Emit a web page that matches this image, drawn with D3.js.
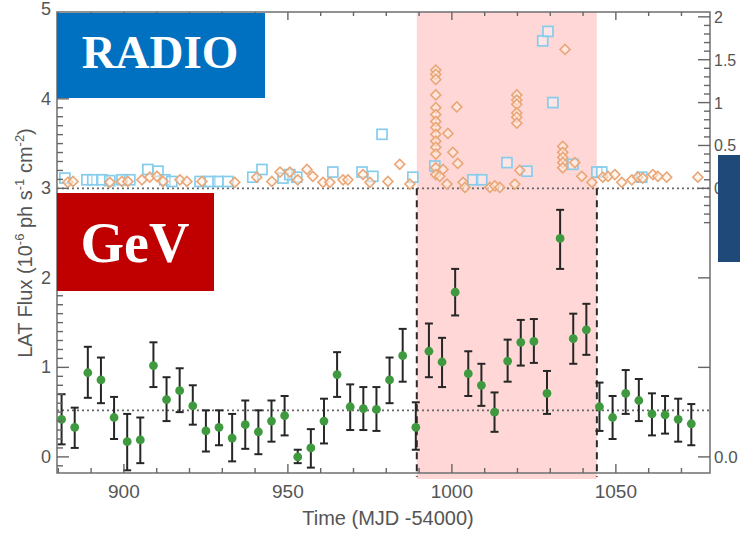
<!DOCTYPE html>
<html>
<head>
<meta charset="utf-8">
<script src="https://cdn.jsdelivr.net/npm/d3@7"></script>
<style>
  html, body { margin: 0; padding: 0; background: #fff; }
  svg { display: block; }
  text { font-family: "Liberation Sans", Arial, sans-serif; fill: #555; }
</style>
</head>
<body>
<svg id="chart" width="740" height="534"></svg>
<script>
// ---- GeV light curve (LAT, 4-day bins) ----
const gevTime = [881, 885, 889, 893, 897, 901, 905, 909, 913, 917, 921, 925, 929, 933, 937, 941, 945, 949, 953, 957,
                 961, 965, 969, 973, 977, 981, 985, 989, 993, 997, 1001, 1005, 1009, 1013, 1017, 1021, 1025, 1029, 1033,
                 1037, 1041, 1045, 1049, 1053, 1057, 1061, 1065, 1069, 1073];
const gevFlux = [0.42, 0.33, 0.94, 0.86, 0.44, 0.17, 0.19, 1.02, 0.64, 0.74, 0.57, 0.29, 0.33, 0.21, 0.36, 0.28, 0.40, 0.46, 0.00, 0.10,
                 0.40, 0.92, 0.56, 0.54, 0.53, 0.86, 1.13, 0.33, 1.18, 1.06, 1.84, 0.93, 0.80, 0.50, 1.07, 1.28, 1.29, 0.71, 2.44,
                 1.32, 1.42, 0.56, 0.44, 0.71, 0.63, 0.48, 0.47, 0.42, 0.37];
const gevHigh = [0.70, 0.55, 1.23, 1.11, 0.67, 0.48, 0.44, 1.28, 0.89, 0.99, 0.80, 0.52, 0.52, 0.48, 0.63, 0.52, 0.63, 0.68, 0.08, 0.31,
                 0.65, 1.17, 0.81, 0.78, 0.78, 1.11, 1.43, 0.61, 1.49, 1.33, 2.10, 1.18, 1.04, 0.72, 1.31, 1.53, 1.54, 0.96, 2.76,
                 1.60, 1.71, 0.83, 0.68, 0.97, 0.87, 0.71, 0.68, 0.65, 0.59];
const gevLow  = [0.14, 0.10, 0.66, 0.60, 0.20, -0.15, -0.07, 0.78, 0.40, 0.50, 0.36, 0.06, 0.13, -0.05, 0.09, 0.03, 0.17, 0.24, -0.07, -0.12,
                 0.15, 0.67, 0.30, 0.30, 0.29, 0.60, 0.84, 0.08, 0.89, 0.78, 1.58, 0.68, 0.57, 0.28, 0.84, 1.02, 1.05, 0.48, 2.10,
                 1.04, 1.14, 0.29, 0.20, 0.48, 0.40, 0.24, 0.26, 0.17, 0.13];
const gevMean = 0.52;

// ---- Radio light curves (right axis) ----
const radioSqTime = [882.0, 888.7, 890.5, 893.3, 895.7, 899.4, 901.8, 907.3, 910.4, 912.5, 914.6, 923.2, 926.2, 928.7, 931.7,
                     939.3, 942.1, 948.5, 950.6, 952.7, 963.7, 972.6, 975.9, 978.7, 988.1, 994.8, 1006.4, 1009.1, 1016.8,
                     1022.9, 1027.7, 1029.3, 1030.8, 1036.9, 1044.2, 1045.7, 1057.9];
const radioSqFlux = [0.12, 0.10, 0.10, 0.10, 0.09, 0.10, 0.10, 0.22, 0.20, 0.10, 0.08, 0.08, 0.08, 0.08, 0.08,
                     0.13, 0.22, 0.12, 0.16, 0.13, 0.19, 0.19, 0.14, 0.63, 0.13, 0.26, 0.10, 0.10, 0.30,
                     0.20, 1.72, 1.83, 1.00, 0.28, 0.19, 0.19, 0.13];
const radioDiaTime = [882.9, 884.5, 895.7, 899.4, 901.2, 905.5, 907.9, 910.1, 911.9, 917.1, 919.2, 923.8, 933.8, 940.5, 945.1,
                      947.6, 950.6, 953.0, 955.8, 957.6, 960.7, 962.8, 966.8, 968.3, 972.9, 975.0, 980.5, 984.1, 987.2,
                      995.1, 995.1, 995.1, 995.1, 995.1, 995.1, 995.1, 995.1, 995.1, 995.1, 995.1, 995.1, 995.1, 995.1,
                      996.3, 997.3, 998.5, 998.8, 1000.3, 1001.5, 1001.8, 1003.4, 1004.0, 1011.6, 1013.1, 1014.6, 1019.2,
                      1019.8, 1019.8, 1019.8, 1019.8, 1019.8, 1019.8, 1020.7,
                      1034.5, 1033.8, 1033.8, 1033.8, 1033.8, 1033.8, 1037.5, 1039.6, 1042.7, 1046.0, 1047.6, 1049.7,
                      1051.8, 1054.9, 1056.7, 1058.2, 1061.3, 1062.8, 1065.5, 1075.0];
const radioDiaFlux = [0.07, 0.08, 0.07, 0.08, 0.08, 0.10, 0.13, 0.14, 0.08, 0.10, 0.08, 0.08, 0.07, 0.13, 0.08,
                      0.19, 0.19, 0.10, 0.22, 0.14, 0.07, 0.07, 0.10, 0.10, 0.16, 0.07, 0.08, 0.28, 0.05,
                      1.38, 1.33, 1.27, 1.09, 0.94, 0.86, 0.78, 0.71, 0.63, 0.55, 0.48, 0.40, 0.24, 0.16,
                      0.14, 0.22, 0.05, 0.64, 0.42, 0.95, 0.29, 0.07, 0.01, 0.01, 0.03, 0.01, 0.05,
                      1.09, 1.03, 0.98, 0.88, 0.83, 0.76, 0.21,
                      1.62, 0.49, 0.42, 0.36, 0.30, 0.24, 0.30, 0.14, 0.07, 0.13, 0.14, 0.16,
                      0.07, 0.10, 0.13, 0.12, 0.16, 0.14, 0.13, 0.13];

// ---- Flare window and axes ----
const flareStart = 989.3, flareEnd = 1044.2;
const xTicks = [900, 950, 1000, 1050];
const yTicks = [0, 1, 2, 3, 4, 5];
const yRightTicks = [0, 0.5, 1, 1.5, 2];
const yRightTickLabels = ["0", "0.5", "1", "1.5", "2"];
const radioBaseline = 3;

const svg = d3.select("#chart");
const L = 57, R = 710, T = 12, B = 473;

const x = d3.scaleLinear().domain([879.6, 1078.7]).range([L, R]);
const y = d3.scaleLinear().domain([-0.18, 4.97]).range([B, T]);
const yR = d3.scaleLinear().domain([0, 2]).range([y(radioBaseline), y(radioBaseline) - 171.5]);

const gev = gevTime.map((t, i) => ({ t, f: gevFlux[i], hi: gevHigh[i], lo: gevLow[i] }));
const sq = radioSqTime.map((t, i) => ({ t, f: radioSqFlux[i] }));
const dia = radioDiaTime.map((t, i) => ({ t, f: radioDiaFlux[i] }));

// flare shading
svg.append("rect")
  .attr("x", x(flareStart)).attr("y", T)
  .attr("width", x(flareEnd) - x(flareStart)).attr("height", B + 6 - T)
  .attr("fill", "#ffd7d7");

// dotted reference lines: radio zero level and GeV mean
svg.append("line")
  .attr("x1", L).attr("x2", R).attr("y1", y(radioBaseline)).attr("y2", y(radioBaseline))
  .attr("stroke", "#666").attr("stroke-width", 1.6).attr("stroke-dasharray", "2,3");
svg.append("line")
  .attr("x1", L).attr("x2", R).attr("y1", y(gevMean)).attr("y2", y(gevMean))
  .attr("stroke", "#666").attr("stroke-width", 1.6).attr("stroke-dasharray", "2,3");

// dashed flare boundaries
[flareStart, flareEnd].forEach(t => {
  svg.append("line")
    .attr("x1", x(t)).attr("x2", x(t)).attr("y1", y(radioBaseline)).attr("y2", B + 4)
    .attr("stroke", "#2a2a2a").attr("stroke-width", 2).attr("stroke-dasharray", "7,5");
});

// radio points
svg.append("g").selectAll("rect").data(sq).join("rect")
  .attr("x", d => x(d.t) - 5).attr("y", d => yR(d.f) - 5)
  .attr("width", 10).attr("height", 10)
  .attr("fill", "rgba(255,255,255,0.35)")
  .attr("stroke", "#86cdec").attr("stroke-width", 1.7);

svg.append("g").selectAll("path").data(dia).join("path")
  .attr("d", d3.symbol(d3.symbolSquare, 50)())
  .attr("transform", d => `translate(${x(d.t)},${yR(d.f)}) rotate(45)`)
  .attr("fill", "rgba(255,240,228,0.55)")
  .attr("stroke", "#e9a677").attr("stroke-width", 1.6);

// GeV error bars and points
const eb = svg.append("g").attr("stroke", "#262626").attr("stroke-width", 2);
gev.forEach(d => {
  const cx = x(d.t);
  eb.append("line").attr("x1", cx).attr("x2", cx).attr("y1", y(d.hi)).attr("y2", y(d.lo));
  eb.append("line").attr("x1", cx - 4).attr("x2", cx + 4).attr("y1", y(d.hi)).attr("y2", y(d.hi));
  eb.append("line").attr("x1", cx - 4).attr("x2", cx + 4).attr("y1", y(d.lo)).attr("y2", y(d.lo));
});
svg.append("g").selectAll("circle").data(gev).join("circle")
  .attr("cx", d => x(d.t)).attr("cy", d => y(d.f)).attr("r", 4.4)
  .attr("fill", "#3f9a3f");

// frame
svg.append("rect").attr("x", L).attr("y", T).attr("width", R - L).attr("height", B - T)
  .attr("fill", "none").attr("stroke", "#777").attr("stroke-width", 1.6);

const tk = svg.append("g").attr("stroke", "#666").attr("stroke-width", 1.4);

// bottom / top ticks
d3.range(880, 1080, 10).forEach(v => {
  const major = v % 50 === 0;
  const xx = x(v);
  tk.append("line").attr("x1", xx).attr("x2", xx).attr("y1", B).attr("y2", B - (major ? 9 : 5));
  tk.append("line").attr("x1", xx).attr("x2", xx).attr("y1", T).attr("y2", T + (major ? 8 : 4));
});
svg.append("g").selectAll("text").data(xTicks).join("text")
  .attr("x", d => x(d)).attr("y", 498).attr("text-anchor", "middle")
  .attr("font-size", 19).text(d => d);

// left ticks
d3.range(-1, 50).forEach(i => {
  const v = i / 10;
  const major = i % 10 === 0;
  tk.append("line").attr("x1", L).attr("x2", L + (major ? 12 : 6)).attr("y1", y(v)).attr("y2", y(v));
});
svg.append("g").selectAll("text").data(yTicks).join("text")
  .attr("x", 51).attr("y", d => y(d) + 6).attr("text-anchor", "end")
  .attr("font-size", 18).text(d => d);

// right ticks (radio scale)
d3.range(-4, 21).forEach(i => {
  const v = i / 10;
  const major = i % 5 === 0;
  tk.append("line").attr("x1", R).attr("x2", R - (major ? 12 : 6)).attr("y1", yR(v)).attr("y2", yR(v));
});
// lower right ticks
[0, 1, 2].forEach(v => {
  tk.append("line").attr("x1", R).attr("x2", R - 12).attr("y1", y(v)).attr("y2", y(v));
});
svg.append("g").selectAll("text").data(yRightTicks).join("text")
  .attr("x", 714).attr("y", d => yR(d) + 6).attr("text-anchor", "start")
  .attr("font-size", 16).text((d, i) => yRightTickLabels[i]);
svg.append("text").attr("x", 714).attr("y", y(0) + 6).attr("font-size", 17).text("0.0");

// axis titles
svg.append("text").attr("x", 388).attr("y", 525).attr("text-anchor", "middle")
  .attr("font-size", 20).text("Time (MJD -54000)");

const yl = svg.append("text")
  .attr("transform", `translate(32,243) rotate(-90)`)
  .attr("text-anchor", "middle").attr("font-size", 20);
yl.append("tspan").text("LAT Flux (10");
yl.append("tspan").attr("dy", -8).attr("font-size", 13).text("-6");
yl.append("tspan").attr("dy", 8).text(" ph s");
yl.append("tspan").attr("dy", -8).attr("font-size", 13).text("-1");
yl.append("tspan").attr("dy", 8).text(" cm");
yl.append("tspan").attr("dy", -8).attr("font-size", 13).text("-2");
yl.append("tspan").attr("dy", 8).text(")");

// band labels
svg.append("rect").attr("x", 57).attr("y", 13).attr("width", 208).attr("height", 85).attr("fill", "#0070c0");
svg.append("text").attr("x", 160).attr("y", 68).attr("text-anchor", "middle")
  .style("font-family", "'Liberation Serif', 'Times New Roman', serif").style("font-weight", "bold")
  .style("fill", "#fff").attr("font-size", 47).text("RADIO");

svg.append("rect").attr("x", 57).attr("y", 193).attr("width", 157).attr("height", 98).attr("fill", "#c00000");
svg.append("text").attr("x", 135).attr("y", 262).attr("text-anchor", "middle")
  .style("font-family", "'Liberation Serif', 'Times New Roman', serif").style("font-weight", "bold")
  .style("fill", "#fff").attr("font-size", 56).text("GeV");

svg.append("rect").attr("x", 718).attr("y", 155).attr("width", 22).attr("height", 107).attr("fill", "#1f4978");
</script>
</body>
</html>
